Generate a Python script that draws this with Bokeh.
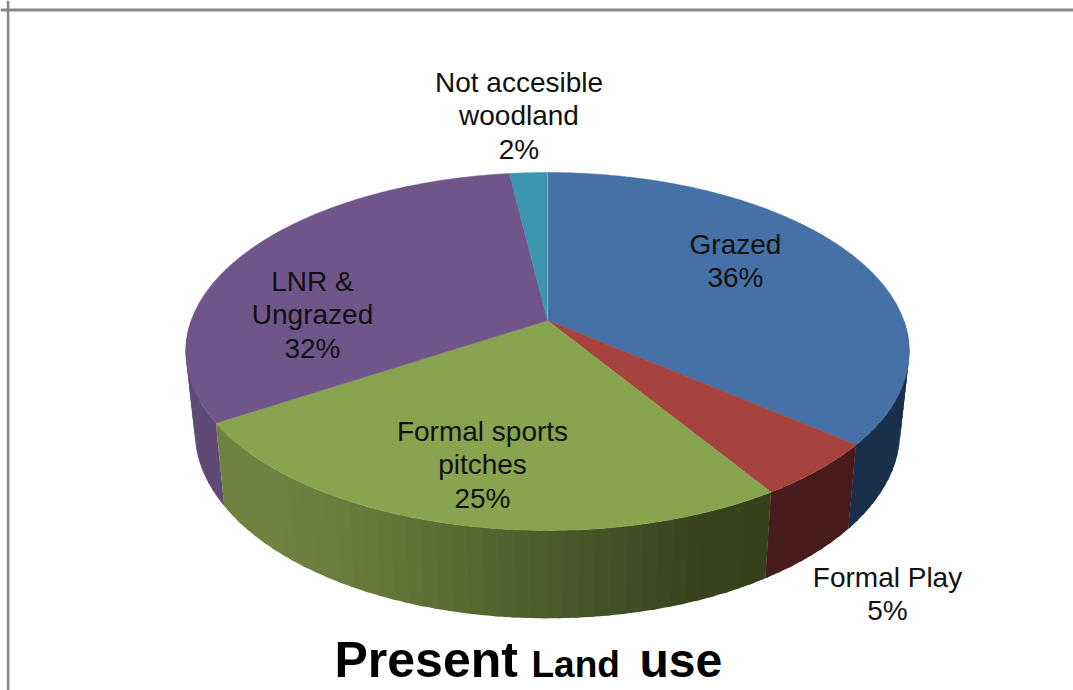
import numpy as np
from bokeh.core.properties import value
from bokeh.embed import file_html
from bokeh.models import ColumnDataSource, Range1d, Span
from bokeh.plotting import figure
from bokeh.resources import INLINE

# ---- data ----
categories = ["Grazed", "Formal Play", "Formal sports pitches", "LNR & Ungrazed", "Not accesible woodland"]
percent = [36, 5, 25, 32, 2]
label_lines = [["Grazed"], ["Formal Play"], ["Formal sports", "pitches"], ["LNR &", "Ungrazed"], ["Not accesible", "woodland"]]
top_colors = ["#4571A6", "#A6433F", "#89A44E", "#70558B", "#3D96AE"]
side_colors = ["#1A2F4B", "#471C1A", None, "#5F4A76", "#2A6577"]

# ---- layout ----
W, H = 1073, 690
X0, Y0 = 547.0, 320.0       # apex of the pie on the page
A, B, K = 356.3, 173.6, 0.173   # perspective of the tilted disc
SHRINK, YS, YO = 0.975, 1.045, 64.0  # from top rim to bottom rim
label_x = [735, 887, 482, 312, 518.5]
label_y = [254, 587, 441, 291, 92]
LINE = 33.5
FS = 28
FONT = "Liberation Sans"
BASE_FIX = 0.36   # the page draws alphabetic text this many em below its anchor

shade_x = [214, 270, 330, 420, 520, 620, 700, 772]
shade_rgb = np.array([[0x6f, 0x82, 0x40], [0x70, 0x82, 0x40], [0x6b, 0x7d, 0x3c], [0x5e, 0x70, 0x36],
                      [0x4f, 0x5f, 0x2e], [0x42, 0x4f, 0x26], [0x37, 0x42, 0x1d], [0x35, 0x40, 0x1c]], float)


def rim(frac):
    t = 2 * np.pi * np.asarray(frac, float)
    u, v = np.sin(t), -np.cos(t)
    w = 1 - K * v
    return X0 + A * u / w, Y0 + B * v / w


def green_shade(x):
    c = [np.interp(x, shade_x, shade_rgb[:, i]) for i in range(3)]
    return "#%02x%02x%02x" % tuple(int(round(i)) for i in c)


p = figure(width=W, height=H, output_backend="svg", toolbar_location=None,
           x_range=Range1d(0, W), y_range=Range1d(H, 0), min_border=0,
           background_fill_color="white", border_fill_color="white", outline_line_color=None)
p.axis.visible = False
p.grid.visible = False

# walls: only the part that faces the viewer, in short bands that overlap the
# next one, so that no seam shows and the strip cannot fold on itself
edges = np.cumsum([0] + percent) / sum(percent)
step = 3
for i in range(len(percent)):
    n = max(2, int(round((edges[i + 1] - edges[i]) * 500)))
    x, y = rim(np.linspace(edges[i], edges[i + 1], n + 1))
    keep = y >= Y0
    if keep.sum() < 2:
        continue
    x, y = x[keep], y[keep]
    xb, yb = X0 + SHRINK * (x - X0), YS * y + YO
    for j in range(0, len(x) - 1, step):
        e = min(j + step + 1, len(x) - 1)
        c = side_colors[i] or green_shade(x[j:e + 1].mean())
        p.patch(np.r_[x[j:e + 1], xb[j:e + 1][::-1]], np.r_[y[j:e + 1], yb[j:e + 1][::-1]],
                fill_color=c, line_color=None)

# top faces
for i in range(len(percent)):
    n = max(2, int(round((edges[i + 1] - edges[i]) * 500)))
    x, y = rim(np.linspace(edges[i], edges[i + 1], n + 1))
    p.patch(np.r_[X0, x], np.r_[Y0, y], fill_color=top_colors[i], line_color=top_colors[i], line_width=0.5)

# faint seam at the start of the first slice
sx, sy = rim(0.0)
p.line([X0, sx], [Y0, sy], line_color="#9fb6d2", line_width=1, line_alpha=0.8)

# labels
tx, ty, ts = [], [], []
for i, lines in enumerate(label_lines):
    for j, s in enumerate(list(lines) + ["%d%%" % percent[i]]):
        tx.append(label_x[i])
        ty.append(label_y[i] + j * LINE - BASE_FIX * FS)
        ts.append(s)
p.text(x="x", y="y", text="t", source=ColumnDataSource(dict(x=tx, y=ty, t=ts)),
       text_font=value(FONT), text_font_size=value("%gpx" % FS), text_color="#111111",
       text_align="center", text_baseline="alphabetic")

# title in three runs of differing size
title_runs = ["Present", "Land", "use"]
title_x = [334, 531, 639]
title_sizes = [50, 37, 48]
for s, x, fs in zip(title_runs, title_x, title_sizes):
    p.text(x=[x], y=[677 - BASE_FIX * fs], text=[s], text_font=value(FONT), text_font_style="bold",
           text_font_size=value("%gpx" % fs), text_color="#000000", text_align="left", text_baseline="alphabetic")

# chart frame (top and left only, the rest is cropped in the picture)
p.add_layout(Span(location=9.5, dimension="width", line_color="#868686", line_width=3))
p.add_layout(Span(location=7.6, dimension="height", line_color="#868686", line_width=2.5))

open("out.html", "w").write(file_html(p, INLINE))
